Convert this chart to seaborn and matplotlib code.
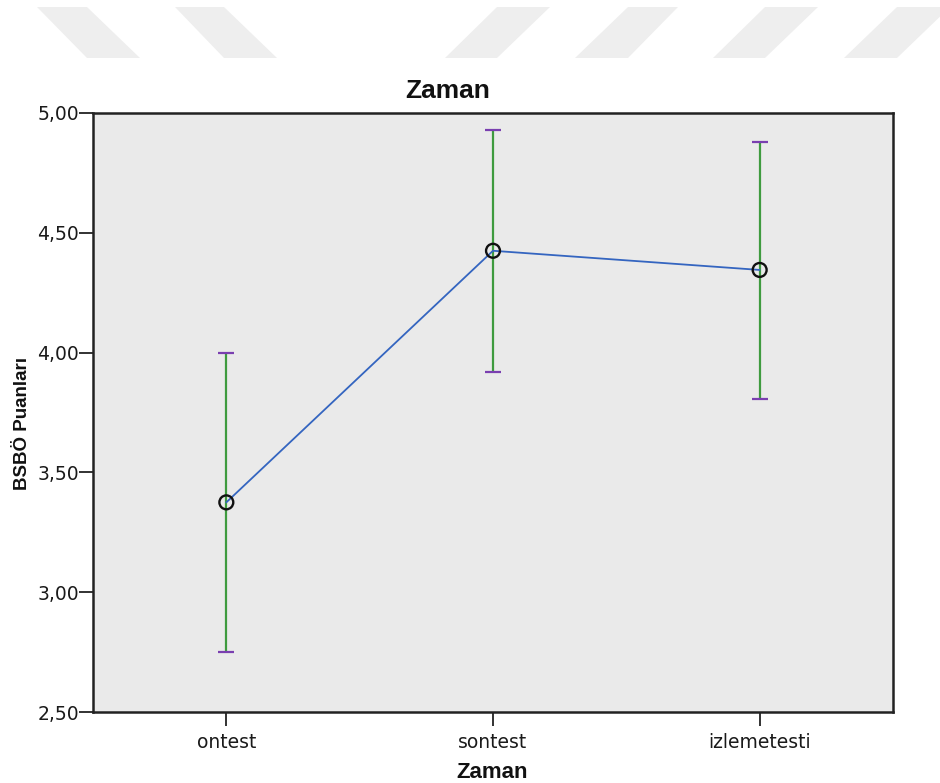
import matplotlib
matplotlib.use("Agg")
import matplotlib.pyplot as plt
from matplotlib.patches import Polygon
import seaborn as sns
import pandas as pd
from matplotlib.ticker import FuncFormatter

categories = ["ontest", "sontest", "izlemetesti"]
means = [3.375, 4.425, 4.345]
ci_low = [2.75, 3.92, 3.805]
ci_high = [4.00, 4.93, 4.88]
yticks = [2.5, 3.0, 3.5, 4.0, 4.5, 5.0]

sns.set_theme(style="white")
plt.rcParams["font.family"] = ["DejaVu Sans"]
BOLD = ["Liberation Sans", "DejaVu Sans"]

fig = plt.figure(figsize=(9.40, 7.83), dpi=100)
ax = fig.add_axes([93 / 940, 1 - 712 / 783, 800 / 940, 599 / 783])

# watermark stripes (figure pixel coords, origin top-left)
H = 783.0
def stripe(xt0, xt1, xb0, xb1, yt=7, yb=58):
    pts = [(xt0, yt), (xt1, yt), (xb1, yb), (xb0, yb)]
    pts = [(x / 940.0, 1 - y / H) for x, y in pts]
    fig.patches.append(Polygon(pts, closed=True, transform=fig.transFigure,
                               facecolor="#eeeeee", edgecolor="none", zorder=0))
stripe(37, 87, 87, 140)
stripe(175, 224, 224, 277)
stripe(497, 550, 445, 497)
stripe(628, 678, 575, 628)
stripe(765, 818, 713, 765)
stripe(897, 950, 844, 897)

ax.set_facecolor("#eaeaea")
df = pd.DataFrame({"Zaman": categories, "mean": means})

# error bars
xs = list(range(len(categories)))
ax.vlines(xs, ci_low, ci_high, color="#3f9b3f", lw=1.6, zorder=2)
ax.hlines(ci_low, [x - 0.03 for x in xs], [x + 0.03 for x in xs], color="#7a3fb0", lw=1.6, zorder=3)
ax.hlines(ci_high, [x - 0.03 for x in xs], [x + 0.03 for x in xs], color="#7a3fb0", lw=1.6, zorder=3)

sns.lineplot(data=df, x="Zaman", y="mean", ax=ax, color="#3465c0", lw=1.3,
             sort=False, zorder=4)
ax.scatter(xs, means, s=100, facecolors="none", edgecolors="#111111", linewidths=1.7, zorder=5)

ax.set_xlim(-0.5, 2.5)
ax.set_ylim(2.5, 5.0)
ax.set_yticks(yticks)
ax.yaxis.set_major_formatter(FuncFormatter(lambda v, p: f"{v:.2f}".replace(".", ",")))
ax.set_xticks(xs)
ax.set_xticklabels(categories)
ax.tick_params(axis="both", which="both", direction="out", length=10, width=1.3,
               color="#222222", labelsize=13.5, labelcolor="#1a1a1a", left=True, bottom=True)
ax.tick_params(axis="y", pad=0)
ax.tick_params(axis="x", pad=5)
for s in ax.spines.values():
    s.set_visible(True)
    s.set_color("#222222")
    s.set_linewidth(1.8)

fig.text(448 / 940, 1 - 98 / 783, "Zaman", fontsize=19, fontweight="bold",
         family=BOLD, color="#111111", ha="center", va="baseline")
xl = ax.set_xlabel("Zaman", fontsize=16, fontweight="bold", family=BOLD, color="#111111")
xl.set_va("baseline")
ax.xaxis.set_label_coords(0.499, -(778 - 712) / 599)
ax.set_ylabel("BSBÖ Puanları", fontsize=13.5, fontweight="bold", family=BOLD, color="#111111")
ax.yaxis.set_label_coords(-0.077, (712 - 423) / 599)
ax.grid(False)

fig.savefig("out.png", dpi=100)
